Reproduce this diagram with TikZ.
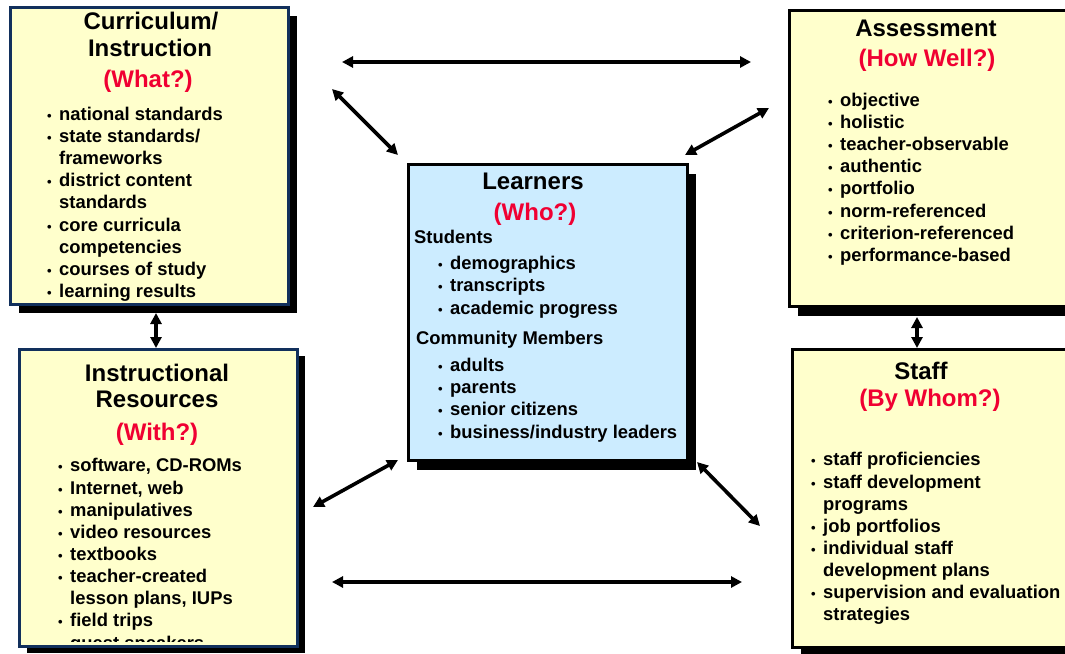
\documentclass[tikz,border=0pt]{standalone}
\usepackage{fontspec}
\setmainfont{Liberation Sans}
\usetikzlibrary{arrows.meta}
\definecolor{ybg}{RGB}{255,255,204}
\definecolor{bbg}{RGB}{204,236,255}
\definecolor{navy}{RGB}{18,48,92}
\definecolor{qred}{RGB}{240,0,50}
\tikzset{
  panel/.style={draw, line width=2.5pt, inner sep=0pt, anchor=north west},
  shadowbox/.style={fill=black, inner sep=0pt, anchor=north west},
  ttl/.style={font=\fontsize{24}{28}\selectfont\bfseries, anchor=base, inner sep=0pt},
  qst/.style={ttl, text=qred},
  itm/.style={font=\fontsize{18.4}{22}\selectfont\bfseries, anchor=base west, inner sep=0pt},
  bul/.style={font=\fontsize{13}{14}\selectfont\bfseries, anchor=base west, inner sep=0pt},
  link/.style={line width=3.6pt, {Triangle[length=11pt,width=11pt]}-{Triangle[length=11pt,width=11pt]}}
}
\newcommand\bitm[4]{\node[bul] (#1b) at (#2,#3) {•}; \node[itm] (#1) at (#2+12,#3) {#4};}
\newcommand\citm[4]{\node[itm] (#1) at (#2+12,#3) {#4};}
\begin{document}
\begin{tikzpicture}[x=1pt,y=-1pt]
\useasboundingbox (0,0) rectangle (1065,653);
\clip (0,0) rectangle (1065,653);

% ---------- panels ----------
\node[shadowbox, minimum width=278pt, minimum height=297pt] (cis) at (19,16) {};
\node[panel, draw=navy, fill=ybg, minimum width=278pt, minimum height=297pt] (ci) at (9,6) {};

\node[shadowbox, minimum width=278pt, minimum height=297pt] (irs) at (27,356) {};
\node[panel, draw=navy, fill=ybg, minimum width=278pt, minimum height=297pt] (ir) at (18,348) {};

\node[shadowbox, minimum width=279pt, minimum height=296pt] (ls) at (417,174) {};
\node[panel, draw=black, fill=bbg, minimum width=279pt, minimum height=296pt] (l) at (407,163) {};

\node[shadowbox, minimum width=300pt, minimum height=296pt] (as) at (798,20) {};
\node[panel, draw=black, fill=ybg, minimum width=300pt, minimum height=296pt] (a) at (788,9) {};

\node[shadowbox, minimum width=300pt, minimum height=298pt] (ss) at (801,357) {};
\node[panel, draw=black, fill=ybg, minimum width=300pt, minimum height=298pt] (s) at (791,348) {};

% ---------- Curriculum / Instruction ----------
\node[ttl] (cit1) at (151,29) {Curriculum/};
\node[ttl] (cit2) at (150,56) {Instruction};
\node[qst] (ciq) at (148,87) {(What?)};
\bitm{ci1}{47}{120}{national standards}
\bitm{ci2}{47}{142}{state standards/}
\citm{ci3}{47}{164}{frameworks}
\bitm{ci4}{47}{186}{district content}
\citm{ci5}{47}{208}{standards}
\bitm{ci6}{47}{231}{core curricula}
\citm{ci7}{47}{253}{competencies}
\bitm{ci8}{47}{275}{courses of study}
\bitm{ci9}{47}{297}{learning results}

% ---------- Instructional Resources ----------
\node[ttl] (irt1) at (157,381) {Instructional};
\node[ttl] (irt2) at (157,407) {Resources};
\node[qst] (irq) at (157,440) {(With?)};
\bitm{ir1}{58}{471}{software, CD-ROMs}
\bitm{ir2}{58}{494}{Internet, web}
\bitm{ir3}{58}{516}{manipulatives}
\bitm{ir4}{58}{538}{video resources}
\bitm{ir5}{58}{560}{textbooks}
\bitm{ir6}{58}{582}{teacher-created}
\citm{ir7}{58}{604}{lesson plans, IUPs}
\bitm{ir8}{58}{626}{field trips}
\begin{scope}
\clip (19.5,349.5) rectangle (294.5,641.5);
\bitm{ir9}{58}{649.5}{guest speakers}
\end{scope}

% ---------- Learners ----------
\node[ttl] (lt) at (533,189) {Learners};
\node[qst] (lq) at (535,220) {(Who?)};
\node[itm] (lst) at (414,243) {Students};
\bitm{l1}{438}{269}{demographics}
\bitm{l2}{438}{291}{transcripts}
\bitm{l3}{438}{314}{academic progress}
\node[itm] (lcm) at (416,344) {Community Members};
\bitm{l4}{438}{371}{adults}
\bitm{l5}{438}{393}{parents}
\bitm{l6}{438}{415}{senior citizens}
\bitm{l7}{438}{438}{business/industry leaders}

% ---------- Assessment ----------
\node[ttl] (at) at (926,36) {Assessment};
\node[qst] (aq) at (927,66) {(How Well?)};
\bitm{a1}{828}{106}{objective}
\bitm{a2}{828}{128}{holistic}
\bitm{a3}{828}{150}{teacher-observable}
\bitm{a4}{828}{172}{authentic}
\bitm{a5}{828}{194}{portfolio}
\bitm{a6}{828}{217}{norm-referenced}
\bitm{a7}{828}{239}{criterion-referenced}
\bitm{a8}{828}{261}{performance-based}

% ---------- Staff ----------
\node[ttl] (st) at (921,379) {Staff};
\node[qst] (sq) at (930,406) {(By Whom?)};
\bitm{s1}{811}{465}{staff proficiencies}
\bitm{s2}{811}{488}{staff development}
\citm{s3}{811}{510}{programs}
\bitm{s4}{811}{532}{job portfolios}
\bitm{s5}{811}{554}{individual staff}
\citm{s6}{811}{576}{development plans}
\bitm{s7}{811}{598}{supervision and evaluation}
\citm{s8}{811}{620}{strategies}

% ---------- connectors ----------
\coordinate (tA) at (342,62);   \coordinate (tB) at (751,62);
\coordinate (tlA) at (332,89);  \coordinate (tlB) at (398,155);
\coordinate (trA) at (685,155); \coordinate (trB) at (769,108);
\coordinate (blA) at (398,460); \coordinate (blB) at (313,507);
\coordinate (brA) at (697,462); \coordinate (brB) at (760,526);
\coordinate (bA) at (332,582);  \coordinate (bB) at (742,582);
\coordinate (lvA) at (156,313); \coordinate (lvB) at (156,348);
\coordinate (rvA) at (917,317); \coordinate (rvB) at (917,348);
\draw[link] (tA) -- (tB);
\draw[link] (tlA) -- (tlB);
\draw[link] (trA) -- (trB);
\draw[link] (blA) -- (blB);
\draw[link] (brA) -- (brB);
\draw[link] (bA) -- (bB);
\draw[link] (lvA) -- (lvB);
\draw[link] (rvA) -- (rvB);
\end{tikzpicture}
\end{document}
